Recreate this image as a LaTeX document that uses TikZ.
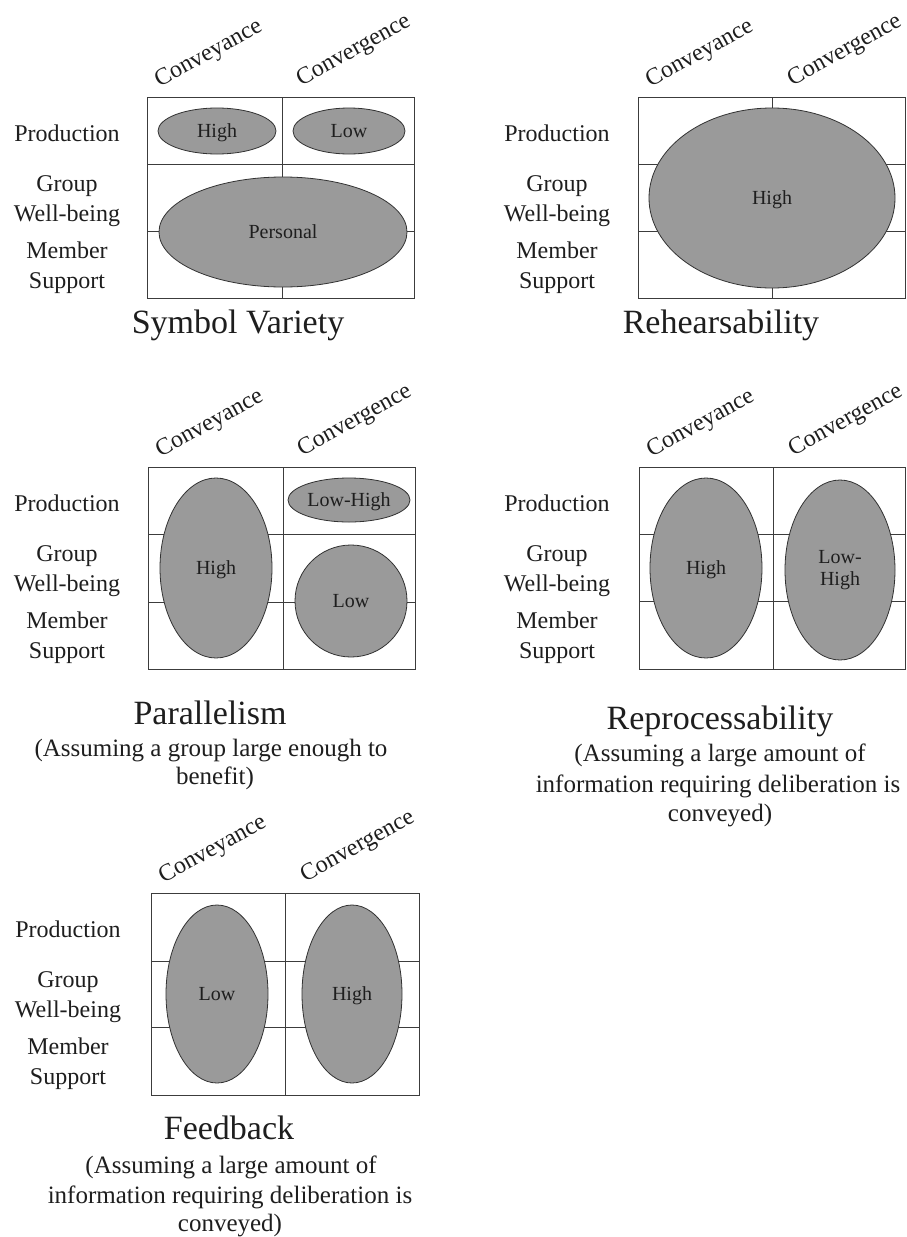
\documentclass[tikz,border=0pt]{standalone}
\usepackage{fontspec}
\setmainfont{Liberation Serif}
\usetikzlibrary{shapes.geometric}

\definecolor{ink}{RGB}{30,30,30}
\definecolor{gridline}{RGB}{60,60,60}
\definecolor{blobfill}{RGB}{154,154,154}
\definecolor{blobedge}{RGB}{50,50,50}

\tikzset{
  lab/.style={font=\fontsize{24}{30}\selectfont, text=ink, anchor=base, inner sep=0pt},
  head/.style={font=\fontsize{24}{30}\selectfont, text=ink, rotate=29, inner sep=0pt},
  title/.style={font=\fontsize{34}{40}\selectfont, text=ink, anchor=base, inner sep=0pt},
  note/.style={font=\fontsize{25}{30}\selectfont, text=ink, anchor=base, inner sep=0pt},
  blob/.style={ellipse, draw=blobedge, line width=0.8pt, fill=blobfill, inner sep=0pt,
    font=\fontsize{20}{22}\selectfont, text=ink, align=center},
  blobone/.style={blob, text height=13pt, text depth=0pt},
  gridpen/.style={draw=gridline, line width=0.8pt}
}

% 3x2 table: left, right, top, bottom, middle column, first row line, second row line
\newcommand\cellgrid[7]{%
  \draw[gridpen] (#1,#3) rectangle (#2,#4);
  \draw[gridpen] (#5,#3) -- (#5,#4) (#1,#6) -- (#2,#6) (#1,#7) -- (#2,#7);
}

% row captions: name prefix, centre x, table top
\newcommand\rowlabels[3]{%
  \node[lab] (#1prod) at (#2,#3+44) {Production};
  \node[lab] (#1grp)  at (#2,#3+94) {Group};
  \node[lab] (#1well) at (#2,#3+124) {Well-being};
  \node[lab] (#1mem)  at (#2,#3+161) {Member};
  \node[lab] (#1sup)  at (#2,#3+191) {Support};
}

% slanted column captions: name prefix, table left, table top
\newcommand\colheads[3]{%
  \node[head] (#1conv) at (#2+62,#3-43) {Conveyance};
  \node[head] (#1cong) at (#2+207,#3-46) {Convergence};
}

\begin{document}
\begin{tikzpicture}[x=1pt,y=-1pt]
  \fill[white] (0,0) rectangle (906,1237);
  \useasboundingbox (0,0) rectangle (906,1237);

  % ---------- Symbol Variety ----------
  \cellgrid{147}{414}{97}{298}{282}{164}{231}
  \rowlabels{sv}{67}{97}
  \colheads{sv}{147}{97}
  \node[blobone, minimum width=118pt, minimum height=46pt] (svhigh) at (217,131) {High};
  \node[blobone, minimum width=112pt, minimum height=46pt] (svlow) at (349,131) {Low};
  \node[blobone, minimum width=248pt, minimum height=110pt] (svpers) at (283,232) {Personal};
  \node[title] (svtitle) at (238,333) {Symbol Variety};

  % ---------- Rehearsability ----------
  \cellgrid{638}{905.5}{97}{298}{772}{164}{231}
  \rowlabels{re}{557}{97}
  \colheads{re}{638}{97}
  \node[blobone, minimum width=246pt, minimum height=180pt] (rehigh) at (772,198) {High};
  \node[title] (retitle) at (721,333) {Rehearsability};

  % ---------- Parallelism ----------
  \cellgrid{148}{415}{467}{669}{283}{534}{602}
  \rowlabels{pa}{67}{467}
  \colheads{pa}{148}{467}
  \node[blobone, minimum width=112pt, minimum height=180pt] (pahigh) at (216,568) {High};
  \node[blobone, minimum width=122pt, minimum height=44pt] (palowhigh) at (349,500) {Low-High};
  \node[blobone, minimum width=112pt, minimum height=112pt] (palow) at (351,601) {Low};
  \node[title] (patitle) at (210,724) {Parallelism};
  \node[note] (panote1) at (211,756) {(Assuming a group large enough to};
  \node[note] (panote2) at (215,784) {benefit)};

  % ---------- Reprocessability ----------
  \cellgrid{639}{905.5}{467}{669}{773}{534}{601}
  \rowlabels{rp}{557}{467}
  \colheads{rp}{639}{467}
  \node[blobone, minimum width=112pt, minimum height=180pt] (rphigh) at (706,568) {High};
  \node[blob, minimum width=110pt, minimum height=180pt] (rplowhigh) at (840,570) {Low-\\High};
  \node[title] (rptitle) at (720,729) {Reprocessability};
  \node[note] (rpnote1) at (720,761) {(Assuming a large amount of};
  \node[note] (rpnote2) at (718,792) {information requiring deliberation is};
  \node[note] (rpnote3) at (720,821) {conveyed)};

  % ---------- Feedback ----------
  \cellgrid{151}{419}{893}{1095}{285}{961}{1027}
  \rowlabels{fb}{68}{893}
  \colheads{fb}{151}{893}
  \node[blobone, minimum width=102pt, minimum height=178pt] (fblow) at (217,994) {Low};
  \node[blobone, minimum width=100pt, minimum height=178pt] (fbhigh) at (352,994) {High};
  \node[title] (fbtitle) at (229,1139) {Feedback};
  \node[note] (fbnote1) at (231,1173) {(Assuming a large amount of};
  \node[note] (fbnote2) at (230,1203) {information requiring deliberation is};
  \node[note] (fbnote3) at (230,1231) {conveyed)};
\end{tikzpicture}
\end{document}
